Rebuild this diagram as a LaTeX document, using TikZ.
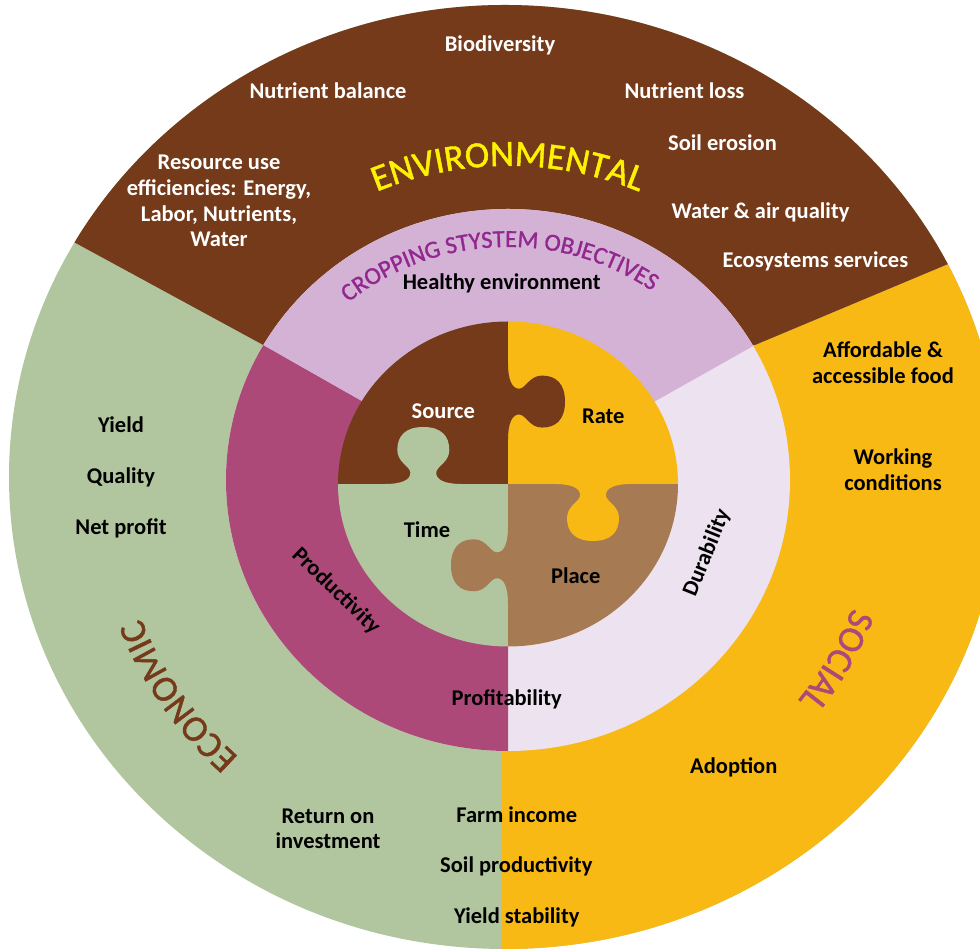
\documentclass[tikz,border=0pt]{standalone}
\usepackage{fontspec}
\setmainfont{Carlito}
\newfontfamily\titlefont{Carlito}[FakeBold=1.2]
\usetikzlibrary{decorations.text}
\definecolor{envbrown}{RGB}{116,58,26}
\definecolor{socyellow}{RGB}{248,185,20}
\definecolor{econgreen}{RGB}{177,198,159}
\definecolor{placebrown}{RGB}{166,122,82}
\definecolor{lpurple}{RGB}{211,178,213}
\definecolor{magentaR}{RGB}{172,73,120}
\definecolor{lavenderR}{RGB}{237,226,239}
\definecolor{envtext}{RGB}{255,242,0}
\definecolor{cropviolet}{RGB}{146,39,143}
\begin{document}
\begin{tikzpicture}[x=1pt,y=1pt,
  lbl/.style={font=\bfseries\fontsize{22.5}{25.6}\selectfont, inner sep=0pt, anchor=base},
  wlbl/.style={lbl, text=white},
  mlbl/.style={font=\bfseries\fontsize{22.5}{25.6}\selectfont, inner sep=0pt, align=center},
  wmlbl/.style={mlbl, text=white},
  rlbl/.style={font=\bfseries\fontsize{22.5}{25.6}\selectfont, inner sep=0pt},
  puzzletab/.pic={
    \fill (-38,-1) -- (-38,0) .. controls (-22,0) and (-12,4) .. (-13,12)
      .. controls (-14,18) and (-26,22) .. (-26,34)
      .. controls (-26,48) and (-18,57) .. (0,57)
      .. controls (18,57) and (26,48) .. (26,34)
      .. controls (26,22) and (14,18) .. (13,12)
      .. controls (12,4) and (22,0) .. (38,0) -- (38,-1) -- cycle;
  }
]
\useasboundingbox (0,0) rectangle (980,950);
\clip (0,0) rectangle (980,950);

% ---------- outer ring: three domains ----------
\begin{scope}
  \clip (505,473) ellipse [x radius=496, y radius=472];
  \fill[econgreen] (0,0) rectangle (1010,960);
  \fill[socyellow] (502,-50) -- (502,470) -- (755,605) -- (1128.4,761.6) -- (1128.4,-50) -- cycle;
  \fill[envbrown] (-113.3,809.6) -- (263.3,605) -- (755,605) -- (1128.4,761.6) -- (1128.4,1000) -- (-113.3,1000) -- cycle;
\end{scope}

% ---------- middle ring: objectives ----------
\begin{scope}
  \clip (508,470) ellipse [x radius=282, y radius=271];
  \fill[lavenderR] (200,150) rectangle (820,800);
  \fill[magentaR] (508,150) -- (508,466) -- (18.6,744) -- (18.6,150) -- cycle;
  \fill[lpurple] (508,466) -- (18.6,744) -- (18.6,800) -- (1002,800) -- (1002,744) -- cycle;
\end{scope}

% ---------- puzzle ----------
\begin{scope}
  \clip (508,466) ellipse [x radius=170, y radius=162.5];
  \fill[envbrown] (330,466) rectangle (508,640);
  \fill[socyellow] (508,466) rectangle (690,640);
  \fill[placebrown] (508,466) rectangle (690,290);
  \fill[econgreen] (330,466) rectangle (508,290);
  \pic[fill=econgreen] at (423.3,466) {puzzletab};
  \pic[fill=envbrown, rotate=-90] at (508,548.4) {puzzletab};
  \pic[fill=socyellow, rotate=180] at (593,466) {puzzletab};
  \pic[fill=placebrown, rotate=90] at (508,384.7) {puzzletab};
\end{scope}

% ---------- curved titles ----------
\path[decorate, decoration={text along path, text align=center, text color=envtext,
  text={|\titlefont\fontsize{37}{37}\selectfont|ENVIRONMENTAL}}]
  (508,466) ++(150:333 and 318) arc[start angle=150, end angle=30, x radius=333, y radius=318];
\path[decorate, decoration={text along path, text align=center, text color=cropviolet,
  text={|\titlefont\fontsize{24.5}{24.5}\selectfont|CROPPING STYSTEM OBJECTIVES}}]
  (508,466) ++(152.3:248 and 237) arc[start angle=152.3, end angle=32.3, x radius=248, y radius=237];
\path[decorate, decoration={text along path, text align=center, text color=envbrown,
  text={|\titlefont\fontsize{37}{37}\selectfont|ECONOMIC}}]
  (508,466) ++(273:393 and 375) arc[start angle=273, end angle=153, x radius=393, y radius=375];
\path[decorate, decoration={text along path, text align=center, text color=magentaR,
  text={|\titlefont\fontsize{37}{37}\selectfont|SOCIAL}}]
  (508,466) ++(31.5:368 and 351) arc[start angle=31.5, end angle=-88.5, x radius=368, y radius=351];

% ---------- environmental items ----------
\node[wlbl] (bio) at (500,898) {Biodiversity};
\node[wlbl] (nbal) at (328,851) {Nutrient balance};
\node[wlbl] (nloss) at (684.5,851) {Nutrient loss};
\node[wlbl] (soil) at (722.5,799) {Soil erosion};
\node[wmlbl] (rue) at (219,748.9) {Resource use\\efficiencies: Energy,\\Labor, Nutrients,\\Water};
\node[wlbl] (water) at (760.5,731.7) {Water \& air quality};
\node[wlbl] (eco) at (815.5,682.3) {Ecosystems services};

% ---------- objectives ----------
\node[lbl] (healthy) at (501.7,660) {Healthy environment};
\node[rlbl, rotate=-44] (prod) at (336,358.8) {Productivity};
\node[rlbl, rotate=68] (dur) at (707,397) {Durability};
\node[lbl] (profit) at (506.7,244) {Profitability};

% ---------- puzzle labels ----------
\node[wlbl] (source) at (443.3,531) {Source};
\node[lbl] (rate) at (603.3,526) {Rate};
\node[lbl] (time) at (427,412.7) {Time};
\node[lbl] (place) at (575.7,366.7) {Place};

% ---------- social items ----------
\node[mlbl] (afford) at (883,587.1) {Affordable \&\\accessible food};
\node[mlbl] (work) at (893,480.4) {Working\\conditions};
\node[lbl] (adopt) at (733.8,176) {Adoption};

% ---------- economic items ----------
\node[lbl] (yield) at (121,517.5) {Yield};
\node[lbl] (quality) at (121,466) {Quality};
\node[lbl] (net) at (121,415.5) {Net profit};
\node[mlbl] (roi) at (328,121.4) {Return on\\investment};
\node[lbl] (farm) at (516.7,127.3) {Farm income};
\node[lbl] (soilp) at (516.3,77.3) {Soil productivity};
\node[lbl] (ystab) at (516.7,26) {Yield stability};
\end{tikzpicture}
\end{document}
